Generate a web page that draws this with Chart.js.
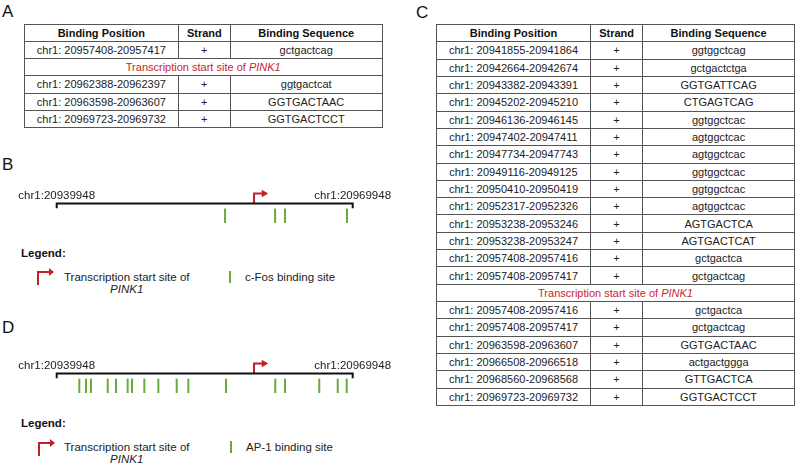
<!DOCTYPE html>
<html>
<head>
<meta charset="utf-8">
<script src="https://cdn.jsdelivr.net/npm/chart.js@4.4.1/dist/chart.umd.min.js"></script>
<style>
  html, body { margin: 0; padding: 0; background: #fff; }
  body { width: 797px; height: 465px; position: relative; overflow: hidden;
         font-family: Arial, "Liberation Sans", Helvetica, sans-serif; color: #222; }
  .letter { position: absolute; font-size: 17px; line-height: 17px; color: #111; }
  table.sites { position: absolute; border-collapse: collapse; table-layout: fixed; font-size: 11px; }
  table.sites td, table.sites th { border: 1px solid #555; padding: 0; text-align: center; white-space: nowrap; }
  table.sites th { font-weight: bold; color: #111; }
  table.sites td.tss { color: #c8262c; }
  canvas.track { position: absolute; left: 0; }
  .chrlabel { position: absolute; font-size: 11.5px; line-height: 14px; transform: translate(-50%, -50%); white-space: nowrap; }
  .legtitle { position: absolute; left: 21px; font-size: 11.5px; font-weight: bold; line-height: 14px; color: #111; }
  .legtext { position: absolute; font-size: 11.5px; line-height: 12px; white-space: nowrap; }
  .tssicon { position: absolute; width: 11px; height: 12px; border-left: 2px solid #c0202a; border-top: 2px solid #c0202a; }
  .tssicon:after { content: ""; position: absolute; left: 10px; top: -5px; border-left: 5px solid #c0202a;
                   border-top: 4px solid transparent; border-bottom: 4px solid transparent; }
  .siteicon { position: absolute; width: 2px; height: 12px; background: #6aaa3c; }
</style>
</head>
<body>

<div class="letter" style="left:2px;top:3px;">A</div>
<div class="letter" style="left:416px;top:4px;">C</div>
<div class="letter" style="left:2px;top:156px;">B</div>
<div class="letter" style="left:2px;top:319px;">D</div>

<table class="sites" id="tableA" style="left:24px;top:23.5px;width:358.5px;height:104.5px;"></table>
<table class="sites" id="tableC" style="left:436px;top:24px;width:359px;height:382px;"></table>

<!-- panel B -->
<canvas class="track" id="trackB" width="410" height="55" style="top:181px;"></canvas>
<div class="chrlabel" id="bLeft"></div>
<div class="chrlabel" id="bRight"></div>
<div class="legtitle" style="top:246px;">Legend:</div>
<div class="tssicon" style="left:37px;top:271px;"></div>
<div class="legtext" style="left:64px;top:271px;text-align:center;">Transcription start site of<br><i>PINK1</i></div>
<div class="siteicon" style="left:229px;top:271px;"></div>
<div class="legtext" style="left:245px;top:271px;">c-Fos binding site</div>

<!-- panel D -->
<canvas class="track" id="trackD" width="410" height="55" style="top:351px;"></canvas>
<div class="chrlabel" id="dLeft"></div>
<div class="chrlabel" id="dRight"></div>
<div class="legtitle" style="top:416px;">Legend:</div>
<div class="tssicon" style="left:38px;top:442px;"></div>
<div class="legtext" style="left:64px;top:441px;text-align:center;">Transcription start site of<br><i>PINK1</i></div>
<div class="siteicon" style="left:230px;top:441px;"></div>
<div class="legtext" style="left:246px;top:441px;">AP-1 binding site</div>

<script>
// region shown in the diagrams and the PINK1 transcription start site
const regionStart = 20939948;
const regionEnd = 20969948;
const tssPos = 20959948;

// table A: c-Fos binding sites
const cfosStart = [20957408, 20962388, 20963598, 20969723];
const cfosEnd = [20957417, 20962397, 20963607, 20969732];
const cfosStrand = ['+', '+', '+', '+'];
const cfosSeq = ['gctgactcag', 'ggtgactcat', 'GGTGACTAAC', 'GGTGACTCCT'];
const cfosBeforeTss = 1;

// table C: AP-1 binding sites
const ap1Start = [20941855, 20942664, 20943382, 20945202, 20946136, 20947402, 20947734,
                  20949116, 20950410, 20952317, 20953238, 20953238, 20957408, 20957408,
                  20957408, 20957408, 20963598, 20966508, 20968560, 20969723];
const ap1End = [20941864, 20942674, 20943391, 20945210, 20946145, 20947411, 20947743,
                20949125, 20950419, 20952326, 20953246, 20953247, 20957416, 20957417,
                20957416, 20957417, 20963607, 20966518, 20968568, 20969732];
const ap1Strand = ['+', '+', '+', '+', '+', '+', '+', '+', '+', '+',
                   '+', '+', '+', '+', '+', '+', '+', '+', '+', '+'];
const ap1Seq = ['ggtggctcag', 'gctgactctga', 'GGTGATTCAG', 'CTGAGTCAG', 'ggtggctcac',
                'agtggctcac', 'agtggctcac', 'ggtggctcac', 'ggtggctcac', 'agtggctcac',
                'AGTGACTCA', 'AGTGACTCAT', 'gctgactca', 'gctgactcag', 'gctgactca',
                'gctgactcag', 'GGTGACTAAC', 'actgactggga', 'GTTGACTCA', 'GGTGACTCCT'];
const ap1BeforeTss = 14;

const cfosMarks = [20957010, 20962080, 20963090, 20969370];
const ap1Marks = [20942240, 20942920, 20943420, 20945120, 20945960, 20947140, 20947580,
                  20948830, 20950250, 20952110, 20953290, 20957110, 20962100, 20963090,
                  20966560, 20968430, 20969340];

const headers = ['Binding Position', 'Strand', 'Binding Sequence'];
const colWidths = ['43%', '14.6%', '42.4%'];

const RED = '#c0202a';
const GREEN = '#6aaa3c';

function fillTable(id, starts, ends, strands, seqs, beforeTss) {
    const table = document.getElementById(id);
    let html = '<colgroup>' + colWidths.map(w => '<col style="width:' + w + '">').join('') + '</colgroup>';
    html += '<tr>' + headers.map(h => '<th>' + h + '</th>').join('') + '</tr>';
    starts.forEach((s, i) => {
        if (i === beforeTss) {
            html += '<tr><td class="tss" colspan="3">Transcription start site of <i>PINK1</i></td></tr>';
        }
        html += '<tr><td>chr1: ' + s + '-' + ends[i] + '</td><td>' + strands[i] + '</td><td>' + seqs[i] + '</td></tr>';
    });
    table.innerHTML = html;
}

fillTable('tableA', cfosStart, cfosEnd, cfosStrand, cfosSeq, cfosBeforeTss);
fillTable('tableC', ap1Start, ap1End, ap1Strand, ap1Seq, ap1BeforeTss);

// vertical levels of the track (in y-scale units)
const CAP_Y = -7;
const ARROW_Y = 15;
const SITE_Y = -18.5;
const LABEL_Y = 13;
const arrowLen = 1000;

function drawTrack(canvasId, marks, leftId, rightId) {
    const canvas = document.getElementById(canvasId);

    // put the chr labels above the ends of the backbone
    const labelPlugin = {
        id: 'chrLabels',
        afterUpdate(chart) {
            const xs = chart.scales.x, ys = chart.scales.y;
            const top = canvas.offsetTop, left = canvas.offsetLeft;
            const l = document.getElementById(leftId);
            const r = document.getElementById(rightId);
            l.textContent = 'chr1:' + regionStart;
            r.textContent = 'chr1:' + regionEnd;
            l.style.left = (left + xs.getPixelForValue(regionStart)) + 'px';
            r.style.left = (left + xs.getPixelForValue(regionEnd)) + 'px';
            l.style.top = r.style.top = (top + ys.getPixelForValue(LABEL_Y)) + 'px';
        }
    };

    new Chart(canvas.getContext('2d'), {
        type: 'scatter',
        data: {
            datasets: [
                {
                    type: 'line',
                    data: [{ x: regionStart, y: CAP_Y }, { x: regionStart, y: 0 },
                           { x: regionEnd, y: 0 }, { x: regionEnd, y: CAP_Y }],
                    borderColor: '#111',
                    borderWidth: 2,
                    pointRadius: 0,
                    fill: false,
                    clip: false
                },
                {
                    type: 'line',
                    data: [{ x: tssPos, y: 0 }, { x: tssPos, y: ARROW_Y }, { x: tssPos + arrowLen, y: ARROW_Y }],
                    borderColor: RED,
                    borderWidth: 2,
                    pointRadius: 0,
                    fill: false,
                    clip: false
                },
                {
                    data: [{ x: tssPos + arrowLen, y: ARROW_Y }],
                    pointStyle: 'triangle',
                    rotation: 90,
                    radius: 3.5,
                    backgroundColor: RED,
                    borderColor: RED,
                    borderWidth: 1,
                    clip: false
                },
                {
                    data: marks.map(m => ({ x: m, y: SITE_Y })),
                    pointStyle: 'line',
                    rotation: 90,
                    radius: 7.2,
                    borderColor: GREEN,
                    borderWidth: 2,
                    clip: false
                }
            ]
        },
        options: {
            responsive: false,
            animation: false,
            devicePixelRatio: 1,
            events: [],
            layout: { padding: { left: 56.7, right: 57.3, top: 0, bottom: 0 } },
            scales: {
                x: { type: 'linear', min: regionStart, max: regionEnd, display: false },
                y: { min: -35, max: 20, display: false }
            },
            plugins: { legend: { display: false }, tooltip: { enabled: false } }
        },
        plugins: [labelPlugin]
    });
}

drawTrack('trackB', cfosMarks, 'bLeft', 'bRight');
drawTrack('trackD', ap1Marks, 'dLeft', 'dRight');
</script>
</body>
</html>
